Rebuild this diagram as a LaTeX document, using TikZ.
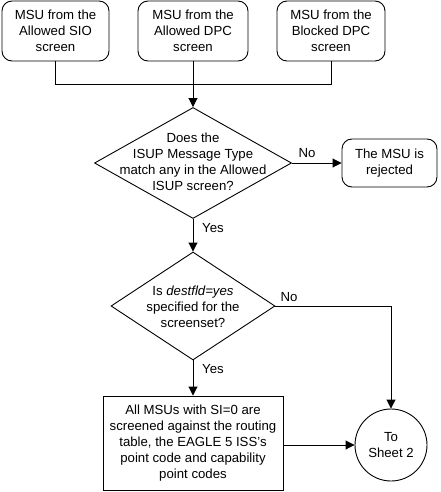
\documentclass[tikz,border=0pt]{standalone}
\usepackage{fontspec}
\setmainfont{Liberation Sans}
\usetikzlibrary{shapes.geometric,arrows.meta}
\begin{document}
\begin{tikzpicture}[x=1pt,y=-1pt,line width=0.9pt,
  txt/.style={font=\fontsize{13.2}{16}\selectfont, align=center, inner sep=0pt},
  rbox/.style={draw, rounded corners=10pt, inner sep=0pt, txt},
  sbox/.style={draw, inner sep=0pt, txt},
  dia/.style={draw, diamond, inner sep=0pt},
  circ/.style={draw, circle, inner sep=0pt, txt},
  arr/.style={-{Triangle[length=9pt,width=9pt]}}
]
\useasboundingbox (0,0) rectangle (441,492);
\node[rbox, minimum width=107, minimum height=60] (b1) at (55.5,31) {MSU from the\\Allowed SIO\\screen};
\node[rbox, minimum width=110, minimum height=60] (b2) at (193,31) {MSU from the\\Allowed DPC\\screen};
\node[rbox, minimum width=108, minimum height=60] (b3) at (331,31) {MSU from the\\Blocked DPC\\screen};
\coordinate (j) at (193,84);
\node[dia, minimum width=197, minimum height=111] (d1) at (193,163) {};
\node[txt] (d1t) at (193,162) {Does the\\ISUP Message Type\\match any in the Allowed\\ISUP screen?};
\node[rbox, minimum width=95, minimum height=48] (rej) at (389.5,163) {The MSU is\\rejected};
\node[dia, minimum width=164, minimum height=108] (d2) at (193,306) {};
\node[txt] (d2t) at (193,307) {Is \textit{destfld=yes}\\specified for the\\screenset?};
\node[sbox, minimum width=180, minimum height=94] (bx) at (193,443) {All MSUs with SI=0 are\\screened against the routing\\table, the EAGLE 5 ISS's\\point code and capability\\point codes};
\node[circ, minimum size=72] (c) at (391,445) {To\\Sheet 2};
\draw (b1.south) |- (j);
\draw (b3.south) |- (j);
\draw[arr] (b2.south) -- (d1.north);
\draw[arr] (d1.east) -- (rej.west);
\node[txt] (no1) at (307,153) {No};
\draw[arr] (d1.south) -- (d2.north);
\node[txt] (yes1) at (213,228) {Yes};
\draw[arr] (d2.east) -| (c.north);
\node[txt] (no2) at (289,297) {No};
\draw[arr] (d2.south) -- (bx.north);
\node[txt] (yes2) at (213,369) {Yes};
\draw[arr] (bx.east |- c.west) -- (c.west);
\end{tikzpicture}
\end{document}
